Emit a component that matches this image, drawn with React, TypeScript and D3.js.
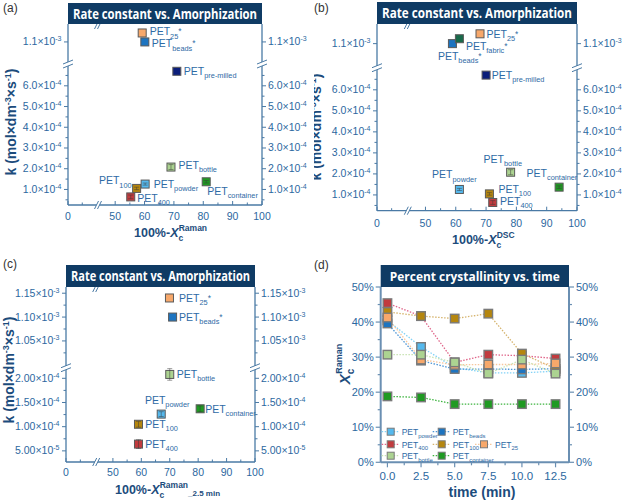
import React from 'react';
import * as d3 from 'd3';

const FONT = "'Liberation Sans', Arial, Helvetica, sans-serif";
const TITLE_FONT = "'Open Sans', 'Noto Sans', sans-serif";
const NAVY = '#0f3b64';
const AXIS = '#4a7aa5';
const TICK_TEXT = '#2c68a0';
const MARK_TEXT = '#2e6aa5';
const TITLE_TEXT = '#1c4c7c';

// sample ids, shown as the subscript after "PET"
const samples = ['25', 'beads', 'fabric', 'pre-milled', 'bottle', 'powder', 'container', '100', '400'];
const starredSamples = ['25', 'beads', 'fabric'];

// rate constant k (mol dm^-3 s^-1) with its error
const rateK = [1.14e-3, 1.10e-3, 1.12e-3, 6.7e-4, 2.08e-4, 1.26e-4, 1.37e-4, 1.05e-4, 6.4e-5];
const rateKErr = [0, 0, 0, 0, 1.2e-5, 5e-6, 6e-6, 6e-6, 9e-6];

// amorphous content, 100% - Xc
const amorphRaman = [59.2, 60.1, null, 71.0, 69.0, 60.2, 81.0, 57.3, 55.3];
const amorphDSC = [68.0, 58.9, 61.2, 70.0, 78.1, 61.2, 94.1, 71.1, 72.2];
const amorphRaman25 = [69.9, 71.0, null, null, 70.0, 67.0, 80.7, 59.0, 59.0];

// Raman crystallinity Xc (%) against milling time (min)
const millTimes = [0, 2.5, 5, 7.5, 10, 12.5];
const xcPowder = [40.5, 32.9, 27.0, 25.5, 25.5, 26.0];
const xcBeads = [39.6, 29.0, 26.6, 26.6, 26.5, 26.7];
const xc400 = [45.4, 41.7, 28.5, 30.7, 30.4, 29.6];
const xc100 = [42.9, 41.7, 41.0, 42.4, 31.0, 26.7];
const xc25 = [41.3, 29.3, 27.8, 27.9, 27.9, 28.2];
const xcBottle = [30.7, 30.7, 28.5, 25.3, 29.3, 25.3];
const xcContainer = [18.8, 18.5, 16.6, 16.6, 16.6, 16.6];

const xcSeries = [
  { id: 'powder', values: xcPowder },
  { id: 'beads', values: xcBeads },
  { id: '400', values: xc400 },
  { id: '100', values: xc100 },
  { id: '25', values: xc25 },
  { id: 'bottle', values: xcBottle },
  { id: 'container', values: xcContainer },
];

const markerFill: Record<string, string> = {
  '25': '#f7a86b', beads: '#1d74c0', fabric: '#186a4a', 'pre-milled': '#0b1e7a', bottle: '#acd391',
  powder: '#55b9ee', container: '#1f9a22', '100': '#b5860e', '400': '#c13b3e',
};
const lineStroke: Record<string, string> = {
  powder: '#82d2f7', beads: '#4b95d6', '400': '#e0668a', '100': '#d6b46e', '25': '#f7c79c',
  bottle: '#c9e3b4', container: '#3db43f',
};

// legend slots [column, row] in panel d
const legendSlots = [[0, 0], [1, 0], [0, 1], [1, 1], [2, 1], [0, 2], [1, 2]];

type Offset = [number, number, ('start' | 'end')?];

interface ScatterCfg {
  left: number; right: number; top: number; bottom: number; titleTop: number;
  breakX: number; breakY: number;
  xValues: (number | null)[];
  yLoDomain: [number, number]; yHiDomain: [number, number]; ySplit: number;
  yLoTicks: number[]; yHiTicks: number[]; yLoMinor: number[]; yHiMinor: number[];
  digits: number;
  labels: Record<string, Offset>;
  tickBase: number;
  yTitle: [number, number];
  xTitle: React.ReactNode;
  clip?: string;
}

const sci = (v: number, digits: number) => {
  const exp = Math.floor(Math.log10(v) + 1e-9);
  return { mant: (v / Math.pow(10, exp)).toFixed(digits), exp: String(exp) };
};

// "PET" with the sample as subscript; the asterisk sits back on the baseline
const PetLabel = ({ x, y, sub, star, size = 10.5, anchor = 'start' }: any) => (
  <text x={x} y={y} fontSize={size} fill={MARK_TEXT} textAnchor={anchor} fontFamily={FONT}>
    PET<tspan fontSize={size * 0.7} dy={size * 0.3}>{sub}</tspan>
    {star && <tspan fontSize={size * 0.8} dy={-size * 0.3 - 1}>*</tspan>}
  </text>
);

const YBreak = ({ x, y }: { x: number; y: number }) => (
  <g>
    <polygon points={`${x - 5},${y + 1} ${x + 5},${y - 3} ${x + 5},${y + 1} ${x - 5},${y + 5}`} fill="white" />
    <line x1={x - 5} y1={y + 1} x2={x + 5} y2={y - 3} stroke={AXIS} strokeWidth={1} />
    <line x1={x - 5} y1={y + 5} x2={x + 5} y2={y + 1} stroke={AXIS} strokeWidth={1} />
  </g>
);

const XBreak = ({ x, y }: { x: number; y: number }) => (
  <g>
    <polygon points={`${x - 4},${y + 4} ${x},${y - 4} ${x + 3},${y - 4} ${x - 1},${y + 4}`} fill="white" />
    <line x1={x - 4} y1={y + 4} x2={x} y2={y - 4} stroke={AXIS} strokeWidth={1} />
    <line x1={x - 1} y1={y + 4} x2={x + 3} y2={y - 4} stroke={AXIS} strokeWidth={1} />
  </g>
);

const KTitle = ({ x, y }: { x: number; y: number }) => (
  <text transform={`translate(${x},${y}) rotate(-90)`} textAnchor="middle" fontSize={14}
    fontWeight="bold" fill={TITLE_TEXT} fontFamily={FONT}>
    k (mol×dm<tspan fontSize={9} dy={-5}>-3</tspan><tspan dy={5}>×s</tspan>
    <tspan fontSize={9} dy={-5}>-1</tspan><tspan dy={5}>)</tspan>
  </text>
);

function ScatterPanel({ cfg, title }: { cfg: ScatterCfg; title: string }) {
  const { left, right, top, bottom, titleTop, breakX, breakY } = cfg;
  const xLo = d3.scaleLinear().domain([0, 10]).range([left, breakX - 2]);
  const xHi = d3.scaleLinear().domain([45, 100]).range([breakX + 2, right]);
  const x = (v: number) => (v < 30 ? xLo(v) : xHi(v));
  const yLo = d3.scaleLinear().domain(cfg.yLoDomain).range([bottom, breakY]);
  const yHi = d3.scaleLinear().domain(cfg.yHiDomain).range([breakY, top]);
  const y = (v: number) => (v > cfg.ySplit ? yHi(v) : yLo(v));

  const xMajor = [0, 50, 60, 70, 80, 90, 100];
  const xMinor = [5, 55, 65, 75, 85, 95];
  const yMajor = [...cfg.yHiTicks, ...cfg.yLoTicks];
  const yMinor = [...cfg.yHiMinor, ...cfg.yLoMinor];

  const points = samples
    .map((id, i) => ({ id, xv: cfg.xValues[i], k: rateK[i], err: rateKErr[i] }))
    .filter(p => p.xv != null);

  const s = 8;
  return (
    <g clipPath={cfg.clip}>
      <KTitle x={cfg.yTitle[0]} y={cfg.yTitle[1]} />
      {/* frame */}
      <g stroke={AXIS} strokeWidth={1.3} fill="none">
        <line x1={left} y1={top} x2={left} y2={bottom} />
        <line x1={right} y1={top} x2={right} y2={bottom} />
        <line x1={left} y1={bottom} x2={right} y2={bottom} />
      </g>
      {/* ticks */}
      <g stroke={AXIS} strokeWidth={1}>
        {xMajor.map(v => <line key={'xM' + v} x1={x(v)} x2={x(v)} y1={bottom} y2={bottom - 4} />)}
        {xMinor.map(v => <line key={'xm' + v} x1={x(v)} x2={x(v)} y1={bottom} y2={bottom - 2.5} />)}
        {yMajor.map(v => (
          <g key={'yM' + v}>
            <line x1={left - 4} x2={left} y1={y(v)} y2={y(v)} />
            <line x1={right} x2={right + 4} y1={y(v)} y2={y(v)} />
          </g>
        ))}
        {yMinor.map(v => (
          <g key={'ym' + v}>
            <line x1={left - 2.5} x2={left} y1={y(v)} y2={y(v)} />
            <line x1={right} x2={right + 2.5} y1={y(v)} y2={y(v)} />
          </g>
        ))}
      </g>
      <g fontFamily={FONT} fill={TICK_TEXT} fontSize={10.5}>
        {xMajor.map(v => (
          <text key={'xl' + v} x={x(v)} y={cfg.tickBase} textAnchor="middle">{v}</text>
        ))}
        {yMajor.map(v => {
          const f = sci(v, cfg.digits);
          return (
            <g key={'yl' + v}>
              <text x={left - 6.5} y={y(v) + 3.5} textAnchor="end">
                {f.mant}×10<tspan fontSize={7} dy={-4}>{f.exp}</tspan>
              </text>
              <text x={right + 6} y={y(v) + 3.5}>
                {f.mant}×10<tspan fontSize={7} dy={-4}>{f.exp}</tspan>
              </text>
            </g>
          );
        })}
      </g>
      <YBreak x={left} y={breakY} />
      <YBreak x={right} y={breakY} />
      <XBreak x={breakX} y={bottom} />
      <XBreak x={breakX} y={top + 1} />
      <rect x={left} y={titleTop} width={right - left} height={top - titleTop} fill={NAVY} />
      <text x={(left + right) / 2} y={(titleTop + top) / 2 + 5} textAnchor="middle" fill="white"
        fontFamily={TITLE_FONT} fontWeight="bold" fontSize={14}
        textLength={right - left - 10} lengthAdjust="spacingAndGlyphs">{title}</text>
      {/* markers */}
      {points.map(p => {
        const cx = x(p.xv as number);
        const cy = y(p.k);
        return (
          <g key={p.id}>
            <rect x={cx - s / 2} y={cy - s / 2} width={s} height={s} fill={markerFill[p.id]}
              stroke="#5a5a5a" strokeWidth={1} />
            {p.err > 0 && (
              <g stroke="#3a3a3a" strokeOpacity={0.55} strokeWidth={0.9}>
                <line x1={cx} x2={cx} y1={y(p.k - p.err)} y2={y(p.k + p.err)} />
                <line x1={cx - 2.5} x2={cx + 2.5} y1={y(p.k - p.err)} y2={y(p.k - p.err)} />
                <line x1={cx - 2.5} x2={cx + 2.5} y1={y(p.k + p.err)} y2={y(p.k + p.err)} />
              </g>
            )}
          </g>
        );
      })}
      {points.map(p => {
        const off = cfg.labels[p.id];
        if (!off) return null;
        return (
          <PetLabel key={'lab' + p.id} x={x(p.xv as number) + off[0]} y={y(p.k) + off[1]}
            sub={p.id} star={starredSamples.includes(p.id)} anchor={off[2] || 'start'} />
        );
      })}
      {cfg.xTitle}
    </g>
  );
}

// 100%-Xc with the subscript and superscript stacked after the X
const XcTitle = ({ x, y, sup, tail }: { x: number; y: number; sup: string; tail?: string }) => (
  <text x={x} y={y} fontFamily={FONT} fontWeight="bold" fontSize={12.5} fill={TITLE_TEXT}>
    100%-<tspan fontStyle="italic">X</tspan>
    <tspan fontSize={8.5} dy={3.5}>c</tspan>
    <tspan fontSize={8.5} dx={-4.5} dy={-9.5}>{sup}</tspan>
    {tail && <tspan fontSize={8} dy={8}>_{tail}</tspan>}
  </text>
);

const cfgA: ScatterCfg = {
  left: 68, right: 262, top: 24, bottom: 205, titleTop: 3, breakX: 98.5, breakY: 63,
  xValues: amorphRaman,
  yLoDomain: [2.5e-5, 7.1e-4], yHiDomain: [1.006e-3, 1.18e-3], ySplit: 9e-4,
  yLoTicks: [1e-4, 2e-4, 3e-4, 4e-4, 5e-4, 6e-4], yHiTicks: [1.1e-3],
  yLoMinor: [5e-5, 1.5e-4, 2.5e-4, 3.5e-4, 4.5e-4, 5.5e-4, 6.5e-4], yHiMinor: [],
  digits: 1,
  labels: {
    '25': [7.5, 2.5], beads: [7, 5.5], 'pre-milled': [7, 4], bottle: [7.5, 2], powder: [8.5, 4],
    container: [1, 13], '100': [-5, -4, 'end'], '400': [6.5, 5],
  },
  tickBase: 220,
  yTitle: [16, 122],
  xTitle: <XcTitle x={134} y={237} sup="Raman" />,
};

const cfgB: ScatterCfg = {
  left: 377, right: 577, top: 24, bottom: 210.7, titleTop: 2, breakX: 408.3, breakY: 66.7,
  xValues: amorphDSC,
  yLoDomain: [2.5e-5, 7.1e-4], yHiDomain: [1.006e-3, 1.18e-3], ySplit: 9e-4,
  yLoTicks: [1e-4, 2e-4, 3e-4, 4e-4, 5e-4, 6e-4], yHiTicks: [1.1e-3],
  yLoMinor: [5e-5, 1.5e-4, 2.5e-4, 3.5e-4, 4.5e-4, 5.5e-4, 6.5e-4], yHiMinor: [],
  digits: 1,
  labels: {
    '25': [6.5, 4], fabric: [6.5, 11], beads: [-14.5, 16.5], 'pre-milled': [5.7, 4],
    bottle: [-27, -9.5], powder: [-27.3, -11], container: [-32.5, -10.6], '100': [9, -1.3], '400': [7.3, 2.3],
  },
  tickBase: 227,
  yTitle: [321, 127],
  xTitle: <XcTitle x={452} y={244} sup="DSC" />,
  clip: 'url(#clipB)',
};

const cfgC: ScatterCfg = {
  left: 66, right: 255, top: 287, bottom: 462, titleTop: 265, breakX: 96.7, breakY: 366.7,
  xValues: amorphRaman25,
  yLoDomain: [2.7e-5, 2.24e-4], yHiDomain: [0.996e-3, 1.163e-3], ySplit: 5e-4,
  yLoTicks: [5e-5, 1e-4, 1.5e-4, 2e-4], yHiTicks: [1.05e-3, 1.1e-3, 1.15e-3],
  yLoMinor: [7.5e-5, 1.25e-4, 1.75e-4], yHiMinor: [1.025e-3, 1.075e-3, 1.125e-3],
  digits: 2,
  labels: {
    '25': [9.6, 4], beads: [6.3, 4], bottle: [7, 3.7], powder: [-16.3, -10], container: [5, 4],
    '100': [6.7, 3.7], '400': [6.7, 3.7],
  },
  tickBase: 476,
  yTitle: [14, 370],
  xTitle: <XcTitle x={115} y={494} sup="Raman" tail="2.5 min" />,
};

function CrystPanel() {
  const left = 380.7, right = 569, top = 287, bottom = 462.3, titleTop = 265;
  const x = d3.scaleLinear().domain([-0.5, 13.5]).range([left, right]);
  const y = d3.scaleLinear().domain([0, 50]).range([bottom, top]);
  const line = d3.line<number>().x((_, i) => x(millTimes[i])).y(v => y(v));
  const yMajor = d3.range(0, 51, 10);
  const yMinor = d3.range(5, 50, 10);
  const xMajor = millTimes;
  const xMinor = d3.range(1.25, 13, 2.5);
  const ax = '#6a8fb2';
  const s = 8.5;
  const legX = [390.7, 441.7, 484];
  const legY = [431.7, 444.3, 455.7];

  return (
    <g>
      <g stroke={ax} strokeWidth={2} fill="none">
        <line x1={left} y1={top} x2={left} y2={bottom} />
        <line x1={right} y1={top} x2={right} y2={bottom} />
        <line x1={left} y1={bottom} x2={right} y2={bottom} />
      </g>
      <g stroke={ax} strokeWidth={1.2}>
        {yMajor.map(v => (
          <g key={'yM' + v}>
            <line x1={left - 5} x2={left} y1={y(v)} y2={y(v)} />
            <line x1={right} x2={right + 5} y1={y(v)} y2={y(v)} />
          </g>
        ))}
        {yMinor.map(v => (
          <g key={'ym' + v}>
            <line x1={left - 3} x2={left} y1={y(v)} y2={y(v)} />
            <line x1={right} x2={right + 3} y1={y(v)} y2={y(v)} />
          </g>
        ))}
        {xMajor.map(v => <line key={'xM' + v} x1={x(v)} x2={x(v)} y1={bottom} y2={bottom + 5} />)}
        {xMinor.map(v => <line key={'xm' + v} x1={x(v)} x2={x(v)} y1={bottom} y2={bottom + 3} />)}
      </g>
      <g fontFamily={FONT} fill={TICK_TEXT}>
        {yMajor.map(v => (
          <g key={'yl' + v} fontSize={11}>
            <text x={left - 7} y={y(v) + 4} textAnchor="end">{v}%</text>
            <text x={right + 7} y={y(v) + 4}>{v}%</text>
          </g>
        ))}
        {xMajor.map(v => (
          <text key={'xl' + v} x={x(v)} y={480} textAnchor="middle" fontSize={11.5}>{v.toFixed(1)}</text>
        ))}
      </g>
      <rect x={left} y={titleTop} width={right - left} height={top - titleTop} fill={NAVY} />
      <text x={(left + right) / 2} y={281} textAnchor="middle" fill="white" fontFamily={TITLE_FONT}
        fontWeight="bold" fontSize={12.5} textLength={170} lengthAdjust="spacingAndGlyphs">
        Percent crystallinity vs. time
      </text>
      {xcSeries.map(sr => (
        <path key={'ln' + sr.id} d={line(sr.values) || ''} fill="none" stroke={lineStroke[sr.id]}
          strokeWidth={1.3} strokeDasharray="1.5 1.5" />
      ))}
      {xcSeries.map(sr => (
        <g key={'mk' + sr.id}>
          {sr.values.map((v, i) => (
            <rect key={i} x={x(millTimes[i]) - s / 2} y={y(v) - s / 2} width={s} height={s}
              fill={markerFill[sr.id]} stroke="#7a7a7a" strokeWidth={1.4} />
          ))}
        </g>
      ))}
      {/* legend */}
      {xcSeries.map((sr, i) => {
        const lx = legX[legendSlots[i][0]];
        const ly = legY[legendSlots[i][1]];
        return (
          <g key={'lg' + sr.id}>
            <line x1={lx - 9} x2={lx + 9} y1={ly} y2={ly} stroke={lineStroke[sr.id]} strokeWidth={1.2}
              strokeDasharray="1.5 1.5" />
            <rect x={lx - 3.5} y={ly - 3.5} width={7} height={7} fill={markerFill[sr.id]} stroke="#7a7a7a"
              strokeWidth={1} />
            <PetLabel x={lx + 11} y={ly + 3.5} sub={sr.id} size={8.5} />
          </g>
        );
      })}
      <text transform="translate(350,364) rotate(-90)" textAnchor="middle" fontFamily={FONT}
        fontWeight="bold" fill={TITLE_TEXT} fontSize={15}>
        <tspan fontStyle="italic">X</tspan>
        <tspan fontSize={10} dy={4}>c</tspan>
        <tspan fontSize={9} dx={-5} dy={-12}>Raman</tspan>
      </text>
      <text x={482} y={497} textAnchor="middle" fontFamily={FONT} fontWeight="bold" fontSize={14}
        fill={TITLE_TEXT}>time (min)</text>
    </g>
  );
}

export default function App() {
  return (
    <svg width={628} height={500} style={{ position: 'absolute', left: 0, top: 0, background: 'white' }}>
      <defs>
        <clipPath id="clipB"><rect x={314} y={0} width={314} height={250} /></clipPath>
      </defs>
      <g fontFamily={FONT} fontSize={12} fill="#333">
        <text x={3} y={12}>(a)</text>
        <text x={314} y={12}>(b)</text>
        <text x={3} y={268}>(c)</text>
        <text x={314} y={269}>(d)</text>
      </g>
      <ScatterPanel cfg={cfgA} title="Rate constant vs. Amorphization" />
      <ScatterPanel cfg={cfgB} title="Rate constant vs. Amorphization" />
      <ScatterPanel cfg={cfgC} title="Rate constant vs. Amorphization" />
      <CrystPanel />
    </svg>
  );
}
